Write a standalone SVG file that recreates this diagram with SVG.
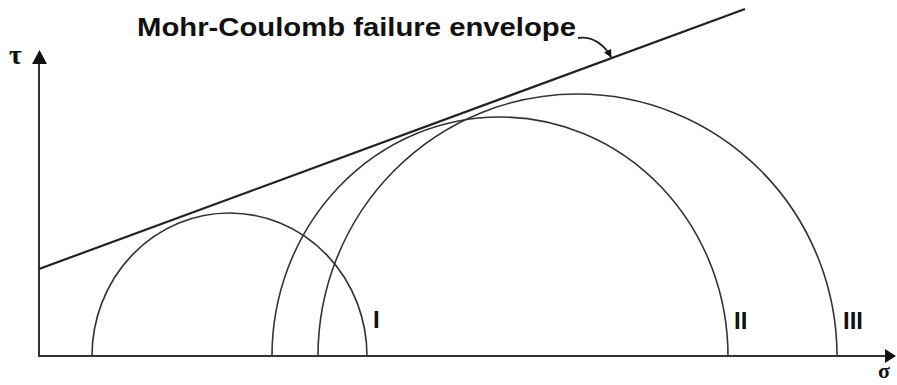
<svg xmlns="http://www.w3.org/2000/svg" width="897" height="385" viewBox="0 0 897 385">
<style>
.axis{stroke:#333;stroke-width:2;fill:none}
.circ{stroke:#333;stroke-width:1.6;fill:none}
.env{stroke:#222;stroke-width:2.2;fill:none}
.lbl{font-family:"Liberation Sans",Arial,sans-serif;font-weight:bold;fill:#111}
.sym{font-family:"Liberation Serif","Times New Roman",serif;font-weight:bold;fill:#111}
</style>
<defs>
<marker id="ah" viewBox="0 0 10 10" refX="9" refY="5" markerWidth="8" markerHeight="8" orient="auto" markerUnits="userSpaceOnUse">
<path d="M0,0 L10,5 L0,10 Z" fill="#111"/>
</marker>
</defs>
<rect width="897" height="385" fill="#fff"/>
<g id="axes">
<line class="axis" x1="39" y1="356" x2="39" y2="62"/>
<path d="M39.5,50 L32,64 L47,64 Z" fill="#111"/>
<line class="axis" x1="38" y1="356" x2="886" y2="356"/>
<path d="M896,356 L885,349 L885,363 Z" fill="#111"/>
<text class="sym" x="9" y="64" font-size="28">τ</text>
<text class="sym" x="878" y="378" font-size="22">σ</text>
</g>
<g id="circle-I">
<path class="circ" d="M92,356 A137.5,143 0 0 1 367,356"/>
<text class="lbl" x="373" y="328" font-size="24">I</text>
</g>
<g id="circle-II">
<path class="circ" d="M272,356 A228,239 0 0 1 728,356"/>
<text class="lbl" x="734" y="329" font-size="24">II</text>
</g>
<g id="circle-III">
<path class="circ" d="M318,356 A259.5,262 0 0 1 837,356"/>
<text class="lbl" x="843" y="329" font-size="24">III</text>
</g>
<g id="envelope">
<line class="env" x1="39" y1="269" x2="745" y2="9"/>
<text class="lbl" x="137" y="36" font-size="25" textLength="439" lengthAdjust="spacingAndGlyphs">Mohr-Coulomb failure envelope</text>
</g>
<g id="connectors">
<path d="M578,38 C592,36 604,44 611,57" fill="none" stroke="#222" stroke-width="1.8" marker-end="url(#ah)"/>
</g>
</svg>
